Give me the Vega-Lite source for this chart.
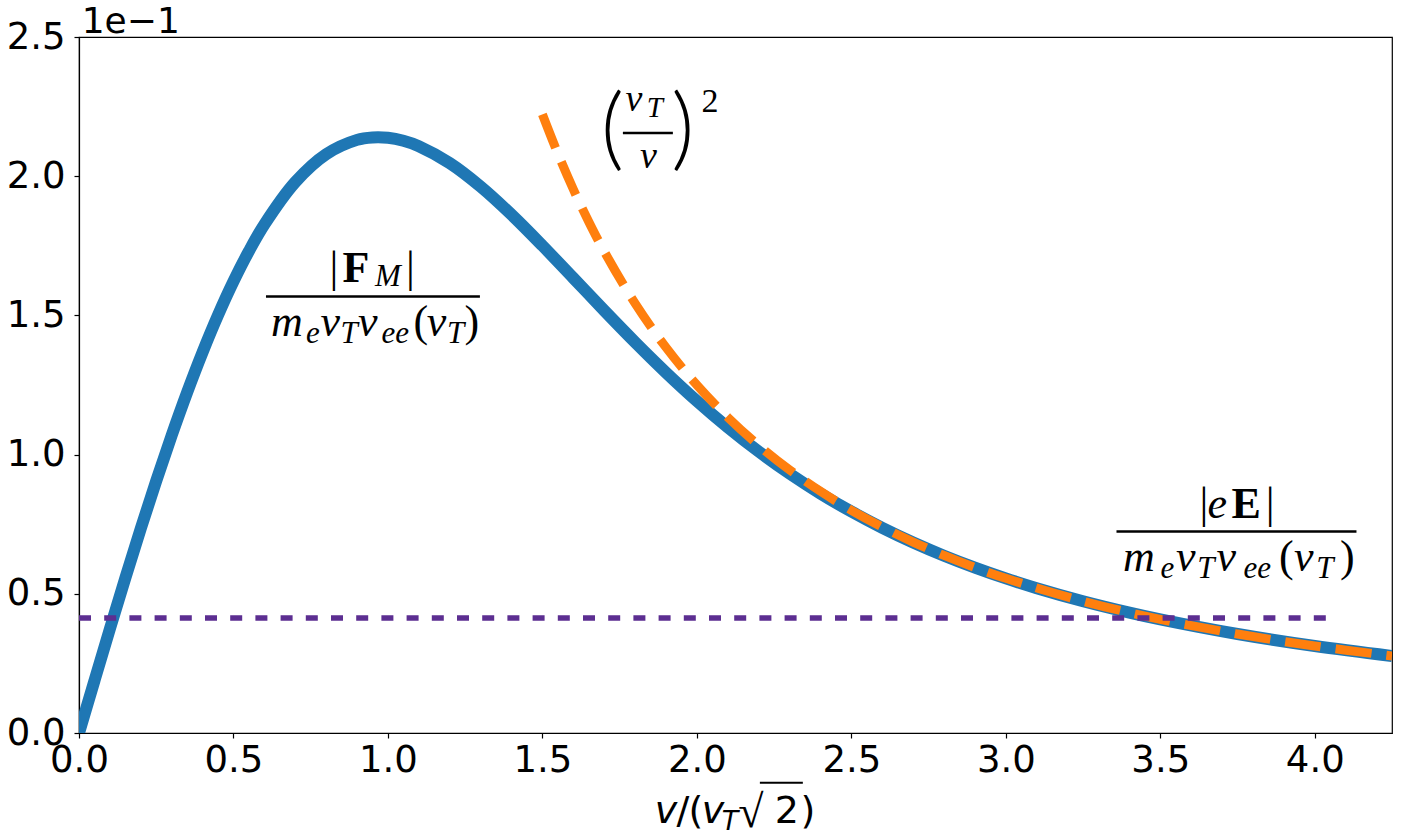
{
  "$schema": "https://vega.github.io/schema/vega-lite/v6.json",
  "width": 1313,
  "height": 696,
  "autosize": {"type": "none"},
  "padding": {"left": 79, "top": 37, "right": 9, "bottom": 104},
  "background": "white",
  "config": {
    "view": {"stroke": "black", "strokeWidth": 1.2},
    "axis": {
      "grid": false,
      "domainColor": "black",
      "domainWidth": 1.2,
      "tickColor": "black",
      "tickWidth": 1.2,
      "tickSize": 5,
      "labelColor": "black",
      "labelFont": "DejaVu Sans",
      "labelFontSize": 37,
      "labelFlush": false,
      "labelOverlap": false,
      "labelBound": false
    },
    "text": {"color": "black", "align": "center", "baseline": "alphabetic"}
  },
  "datasets": {
    "blue": [
      {"x": 0, "y": 0}, {"x": 0.05, "y": 0.1878}, {"x": 0.1, "y": 0.3739}, {"x": 0.15, "y": 0.5566},
      {"x": 0.2, "y": 0.7345}, {"x": 0.25, "y": 0.9058}, {"x": 0.3, "y": 1.0693}, {"x": 0.35, "y": 1.2238},
      {"x": 0.4, "y": 1.368}, {"x": 0.45, "y": 1.5011}, {"x": 0.5, "y": 1.6222}, {"x": 0.55, "y": 1.7308},
      {"x": 0.6, "y": 1.8265}, {"x": 0.7, "y": 1.9787}, {"x": 0.8, "y": 2.079}, {"x": 0.9, "y": 2.1305},
      {"x": 0.95, "y": 2.1393}, {"x": 1.0, "y": 2.138}, {"x": 1.05, "y": 2.1272}, {"x": 1.1, "y": 2.1078},
      {"x": 1.2, "y": 2.0469}, {"x": 1.3, "y": 1.9625}, {"x": 1.4, "y": 1.8617}, {"x": 1.5, "y": 1.7505},
      {"x": 1.6, "y": 1.6343}, {"x": 1.7, "y": 1.5176}, {"x": 1.8, "y": 1.4036}, {"x": 1.9, "y": 1.2947},
      {"x": 2.0, "y": 1.1925}, {"x": 2.1, "y": 1.0978}, {"x": 2.2, "y": 1.0109}, {"x": 2.3, "y": 0.9317},
      {"x": 2.4, "y": 0.86}, {"x": 2.5, "y": 0.7953}, {"x": 2.6, "y": 0.737}, {"x": 2.7, "y": 0.6844},
      {"x": 2.8, "y": 0.6369}, {"x": 2.9, "y": 0.5941}, {"x": 3.0, "y": 0.5553}, {"x": 3.1, "y": 0.5202},
      {"x": 3.25, "y": 0.4733}, {"x": 3.4, "y": 0.4325}, {"x": 3.5, "y": 0.4082}, {"x": 3.75, "y": 0.3556},
      {"x": 4.0, "y": 0.3125}, {"x": 4.25, "y": 0.2768}
    ],
    "orange": [
      {"x": 1.5, "y": 2.2222}, {"x": 1.55, "y": 2.0812}, {"x": 1.6, "y": 1.9531}, {"x": 1.65, "y": 1.8365},
      {"x": 1.7, "y": 1.7301}, {"x": 1.8, "y": 1.5432}, {"x": 1.9, "y": 1.385}, {"x": 2.0, "y": 1.25},
      {"x": 2.1, "y": 1.1338}, {"x": 2.2, "y": 1.0331}, {"x": 2.3, "y": 0.9452}, {"x": 2.4, "y": 0.8681},
      {"x": 2.5, "y": 0.8}, {"x": 2.6, "y": 0.7396}, {"x": 2.7, "y": 0.6859}, {"x": 2.8, "y": 0.6378},
      {"x": 2.9, "y": 0.5945}, {"x": 3.0, "y": 0.5556}, {"x": 3.25, "y": 0.4734}, {"x": 3.5, "y": 0.4082},
      {"x": 3.75, "y": 0.3556}, {"x": 4.0, "y": 0.3125}, {"x": 4.25, "y": 0.2768}
    ],
    "purple": [{"x": 0, "y": 0.413}, {"x": 4.039, "y": 0.413}],
    "bars": [
      {"x": 0.6052, "x2": 1.2977, "y": 1.5683},
      {"x": 3.3582, "x2": 4.135, "y": 0.7241},
      {"x": 1.7605, "x2": 1.9223, "y": 2.1552}
    ],
    "mathItalic": [
      {"x": 0.6731, "y": 1.4246, "t": "m"}, {"x": 0.8136, "y": 1.4246, "t": "v"},
      {"x": 0.9346, "y": 1.4246, "t": "ν"}, {"x": 1.1573, "y": 1.4246, "t": "v"},
      {"x": 3.4304, "y": 0.5805, "t": "m"}, {"x": 3.5825, "y": 0.5805, "t": "v"},
      {"x": 3.7136, "y": 0.5805, "t": "ν"}, {"x": 3.9644, "y": 0.5805, "t": "v"},
      {"x": 3.6845, "y": 0.7733, "t": "e"}
    ],
    "mathSub": [
      {"x": 1.0, "y": 1.6067, "t": "M"},
      {"x": 0.7573, "y": 1.4019, "t": "e"}, {"x": 0.8744, "y": 1.4019, "t": "T"},
      {"x": 1.0239, "y": 1.4019, "t": "ee"}, {"x": 1.2191, "y": 1.4019, "t": "T"},
      {"x": 3.5227, "y": 0.5578, "t": "e"}, {"x": 3.6472, "y": 0.5578, "t": "T"},
      {"x": 3.8139, "y": 0.5578, "t": "ee"}, {"x": 4.0324, "y": 0.5578, "t": "T"}
    ],
    "mathBold": [
      {"x": 0.8964, "y": 1.6211, "t": "F"}, {"x": 3.7783, "y": 0.7733, "t": "E"}
    ],
    "mathUpright": [
      {"x": 0.8252, "y": 1.6211, "t": "|"}, {"x": 1.0728, "y": 1.6211, "t": "|"},
      {"x": 1.1065, "y": 1.4246, "t": "("}, {"x": 1.2715, "y": 1.4246, "t": ")"},
      {"x": 3.6414, "y": 0.7733, "t": "|"}, {"x": 3.856, "y": 0.7733, "t": "|"},
      {"x": 3.9078, "y": 0.5805, "t": "("}, {"x": 4.1052, "y": 0.5805, "t": ")"}
    ],
    "fracItalic": [
      {"x": 1.7961, "y": 2.2328, "t": "v"}, {"x": 1.843, "y": 2.0305, "t": "v"}
    ],
    "fracSub": [{"x": 1.8641, "y": 2.2138, "t": "T"}],
    "power": [{"x": 2.0421, "y": 2.2316, "t": "2"}],
    "bigParens": [
      {"x": 1.7265, "y": 2.0610, "t": "("}, {"x": 1.9547, "y": 2.0610, "t": ")"}
    ],
    "titleItalic": [
      {"x": 1.8997, "y": -0.3222, "t": "v"}, {"x": 2.0518, "y": -0.3222, "t": "v"}
    ],
    "titleUpright": [
      {"x": 1.9547, "y": -0.3222, "t": "/"}, {"x": 1.9968, "y": -0.3222, "t": "("},
      {"x": 2.2913, "y": -0.3222, "t": "2"}, {"x": 2.3592, "y": -0.3222, "t": ")"}
    ],
    "titleRadical": [{"x": 2.1748, "y": -0.3366, "t": "√"}],
    "titleSub": [{"x": 2.1068, "y": -0.3473, "t": "T"}],
    "titleBar": [{"x": 2.2039, "x2": 2.343, "y": -0.1785}],
    "offsetText": [{"x": 0.0087, "y": 2.5144, "t": "1e−1"}]
  },
  "encoding": {
    "x": {
      "field": "x",
      "type": "quantitative",
      "scale": {"domain": [0, 4.25], "nice": false, "zero": false},
      "axis": {"values": [0, 0.5, 1, 1.5, 2, 2.5, 3, 3.5, 4], "format": ".1f", "title": null, "labelPadding": 4}
    },
    "y": {
      "field": "y",
      "type": "quantitative",
      "scale": {"domain": [0, 2.5], "nice": false, "zero": false},
      "axis": {"values": [0, 0.5, 1, 1.5, 2, 2.5], "format": ".1f", "title": null, "labelPadding": 9}
    }
  },
  "layer": [
    {
      "data": {"name": "blue"},
      "mark": {"type": "line", "color": "#1f77b4", "strokeWidth": 12, "interpolate": "catmull-rom", "clip": true, "strokeCap": "butt"}
    },
    {
      "data": {"name": "orange"},
      "mark": {"type": "line", "color": "#ff7f0e", "strokeWidth": 9, "strokeDash": [36, 15], "interpolate": "catmull-rom", "clip": true}
    },
    {
      "data": {"name": "purple"},
      "mark": {"type": "line", "color": "#5c2e91", "strokeWidth": 5.5, "strokeDash": [12, 13.2]}
    },
    {
      "data": {"name": "bars"},
      "mark": {"type": "rule", "color": "black", "strokeWidth": 2.5},
      "encoding": {"x2": {"field": "x2"}}
    },
    {
      "data": {"name": "mathItalic"},
      "mark": {"type": "text", "font": "Liberation Serif", "fontStyle": "italic", "fontSize": 44},
      "encoding": {"text": {"field": "t"}}
    },
    {
      "data": {"name": "mathSub"},
      "mark": {"type": "text", "font": "Liberation Serif", "fontStyle": "italic", "fontSize": 31},
      "encoding": {"text": {"field": "t"}}
    },
    {
      "data": {"name": "mathBold"},
      "mark": {"type": "text", "font": "Liberation Serif", "fontWeight": "bold", "fontSize": 44},
      "encoding": {"text": {"field": "t"}}
    },
    {
      "data": {"name": "mathUpright"},
      "mark": {"type": "text", "font": "Liberation Serif", "fontSize": 44},
      "encoding": {"text": {"field": "t"}}
    },
    {
      "data": {"name": "fracItalic"},
      "mark": {"type": "text", "font": "Liberation Serif", "fontStyle": "italic", "fontSize": 38},
      "encoding": {"text": {"field": "t"}}
    },
    {
      "data": {"name": "fracSub"},
      "mark": {"type": "text", "font": "Liberation Serif", "fontStyle": "italic", "fontSize": 29},
      "encoding": {"text": {"field": "t"}}
    },
    {
      "data": {"name": "power"},
      "mark": {"type": "text", "font": "Liberation Serif", "fontSize": 34},
      "encoding": {"text": {"field": "t"}}
    },
    {
      "data": {"name": "bigParens"},
      "mark": {"type": "text", "font": "Lato", "fontWeight": 300, "fontSize": 90},
      "encoding": {"text": {"field": "t"}}
    },
    {
      "data": {"name": "titleItalic"},
      "mark": {"type": "text", "font": "DejaVu Sans", "fontStyle": "italic", "fontSize": 38},
      "encoding": {"text": {"field": "t"}}
    },
    {
      "data": {"name": "titleUpright"},
      "mark": {"type": "text", "font": "DejaVu Sans", "fontSize": 38},
      "encoding": {"text": {"field": "t"}}
    },
    {
      "data": {"name": "titleRadical"},
      "mark": {"type": "text", "font": "Liberation Serif", "fontSize": 46},
      "encoding": {"text": {"field": "t"}}
    },
    {
      "data": {"name": "titleSub"},
      "mark": {"type": "text", "font": "DejaVu Sans", "fontStyle": "italic", "fontSize": 27},
      "encoding": {"text": {"field": "t"}}
    },
    {
      "data": {"name": "titleBar"},
      "mark": {"type": "rule", "color": "black", "strokeWidth": 2},
      "encoding": {"x2": {"field": "x2"}}
    },
    {
      "data": {"name": "offsetText"},
      "mark": {"type": "text", "font": "DejaVu Sans", "fontSize": 36, "align": "left"},
      "encoding": {"text": {"field": "t"}}
    }
  ]
}
